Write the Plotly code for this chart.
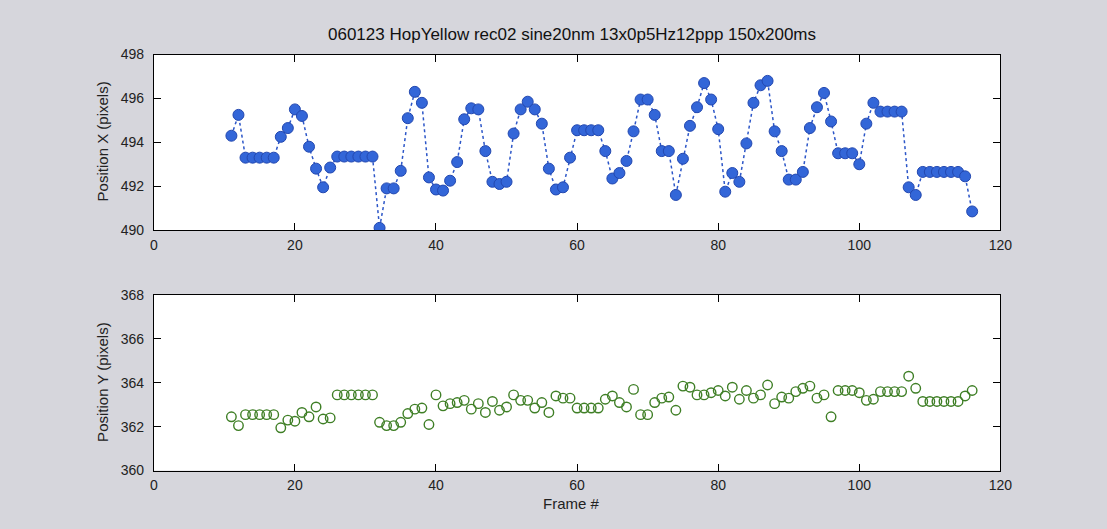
import plotly.graph_objects as go

frames = list(range(11, 117))

pos_x = [
    494.3, 495.25, 493.3, 493.3, 493.3, 493.3, 493.3, 494.25, 494.65, 495.5,   # 11-20
    495.2, 493.8, 492.8, 491.95, 492.85, 493.35, 493.35, 493.35, 493.35, 493.35,  # 21-30
    493.35, 490.1, 491.9, 491.9, 492.7, 495.1, 496.3, 495.8, 492.4, 491.85,  # 31-40
    491.8, 492.25, 493.1, 495.05, 495.55, 495.5, 493.6, 492.2, 492.1, 492.2,  # 41-50
    494.4, 495.5, 495.85, 495.5, 494.85, 492.8, 491.85, 491.95, 493.3, 494.55,  # 51-60
    494.55, 494.55, 494.55, 493.6, 492.35, 492.6, 493.15, 494.5, 495.95, 495.95,  # 61-70
    495.25, 493.6, 493.6, 491.6, 493.25, 494.75, 495.6, 496.7, 495.95, 494.6,  # 71-80
    491.75, 492.6, 492.2, 493.95, 495.8, 496.6, 496.8, 494.5, 493.6, 492.3,  # 81-90
    492.3, 492.65, 494.65, 495.6, 496.25, 494.95, 493.5, 493.5, 493.5, 493.0,  # 91-100
    494.85, 495.8, 495.4, 495.4, 495.4, 495.4, 491.95, 491.6, 492.65, 492.65,  # 101-110
    492.65, 492.65, 492.65, 492.65, 492.45, 490.85,  # 111-116
]

pos_y = [
    362.45, 362.05, 362.55, 362.55, 362.55, 362.55, 362.55, 361.95, 362.3, 362.25,  # 11-20
    362.65, 362.45, 362.9, 362.35, 362.4, 363.45, 363.45, 363.45, 363.45, 363.45,  # 21-30
    363.45, 362.2, 362.05, 362.05, 362.2, 362.6, 362.8, 362.85, 362.1, 363.45,  # 31-40
    362.95, 363.05, 363.1, 363.2, 362.8, 363.05, 362.65, 363.15, 362.75, 362.9,  # 41-50
    363.45, 363.2, 363.2, 362.85, 363.1, 362.65, 363.4, 363.3, 363.3, 362.85,  # 51-60
    362.85, 362.85, 362.85, 363.25, 363.4, 363.1, 362.9, 363.7, 362.55, 362.55,  # 61-70
    363.1, 363.3, 363.35, 362.75, 363.85, 363.8, 363.45, 363.45, 363.55, 363.65,  # 71-80
    363.4, 363.8, 363.25, 363.65, 363.3, 363.45, 363.9, 363.05, 363.35, 363.3,  # 81-90
    363.6, 363.75, 363.85, 363.3, 363.45, 362.45, 363.65, 363.65, 363.65, 363.55,  # 91-100
    363.2, 363.25, 363.6, 363.6, 363.6, 363.6, 364.3, 363.75, 363.15, 363.15,  # 101-110
    363.15, 363.15, 363.15, 363.15, 363.4, 363.65,  # 111-116
]

x_ticks = [0, 20, 40, 60, 80, 100, 120]
top_ticks = [490, 492, 494, 496, 498]
bot_ticks = [360, 362, 364, 366, 368]

title_text = "060123 HopYellow rec02 sine20nm 13x0p5Hz12ppp 150x200ms"

W, H = 1107, 529
FONT = "Liberation Sans"

fig = go.Figure()
fig.add_trace(go.Scatter(
    x=frames, y=pos_x, mode="lines+markers", xaxis="x", yaxis="y",
    line=dict(color="#2c56c8", width=1.5, dash="dot"),
    marker=dict(size=11, color="#3366d8", line=dict(color="#2348b0", width=1)),
    showlegend=False,
))
fig.add_trace(go.Scatter(
    x=frames, y=pos_y, mode="markers", xaxis="x2", yaxis="y2",
    marker=dict(size=9.5, color="rgba(255,255,255,0)", symbol="circle",
                line=dict(color="#3f7f26", width=1.4)),
    showlegend=False,
))

def px_x(p):
    return p / W

def px_y(p):
    return 1 - p / H

tickfont = dict(family=FONT, size=14, color="#222")
common_x = dict(range=[0, 120], tickvals=x_ticks, ticks="inside", ticklen=7,
                showline=True, linecolor="black", linewidth=1, mirror="ticks",
                showgrid=False, zeroline=False, tickcolor="black",
                tickfont=tickfont, ticklabelstandoff=2)
common_y = dict(ticks="inside", ticklen=7, showline=True, linecolor="black",
                linewidth=1, mirror="ticks", showgrid=False, zeroline=False,
                tickcolor="black", tickfont=tickfont, ticklabelstandoff=6)

L, R = 152, 1011
fig.update_layout(
    width=W, height=H,
    margin=dict(l=0, r=0, t=0, b=0),
    paper_bgcolor="#d6d6dc",
    plot_bgcolor="white",
    xaxis=dict(domain=[px_x(L), px_x(R)], anchor="y", **common_x),
    yaxis=dict(domain=[px_y(229), px_y(48)], anchor="x", range=[490, 498],
               tickvals=top_ticks, **common_y),
    xaxis2=dict(domain=[px_x(L), px_x(R)], anchor="y2", **common_x),
    yaxis2=dict(domain=[px_y(477), px_y(296)], anchor="x2", range=[360, 368],
                tickvals=bot_ticks, **common_y),
    annotations=[
        dict(text=title_text, x=px_x(576), y=px_y(27), xref="paper", yref="paper",
             showarrow=False, xanchor="center", yanchor="middle",
             font=dict(family=FONT, size=17, color="#111")),
        dict(text="Position X (pixels)", x=px_x(100), y=px_y(138), xref="paper",
             yref="paper", showarrow=False, textangle=-90, xanchor="center",
             yanchor="middle", font=dict(family=FONT, size=15, color="#222")),
        dict(text="Position Y (pixels)", x=px_x(100), y=px_y(386), xref="paper",
             yref="paper", showarrow=False, textangle=-90, xanchor="center",
             yanchor="middle", font=dict(family=FONT, size=15, color="#222")),
        dict(text="Frame #", x=px_x(576), y=px_y(511), xref="paper", yref="paper",
             showarrow=False, xanchor="center", yanchor="middle",
             font=dict(family=FONT, size=15, color="#222")),
    ],
)

fig.write_html("out.html")
